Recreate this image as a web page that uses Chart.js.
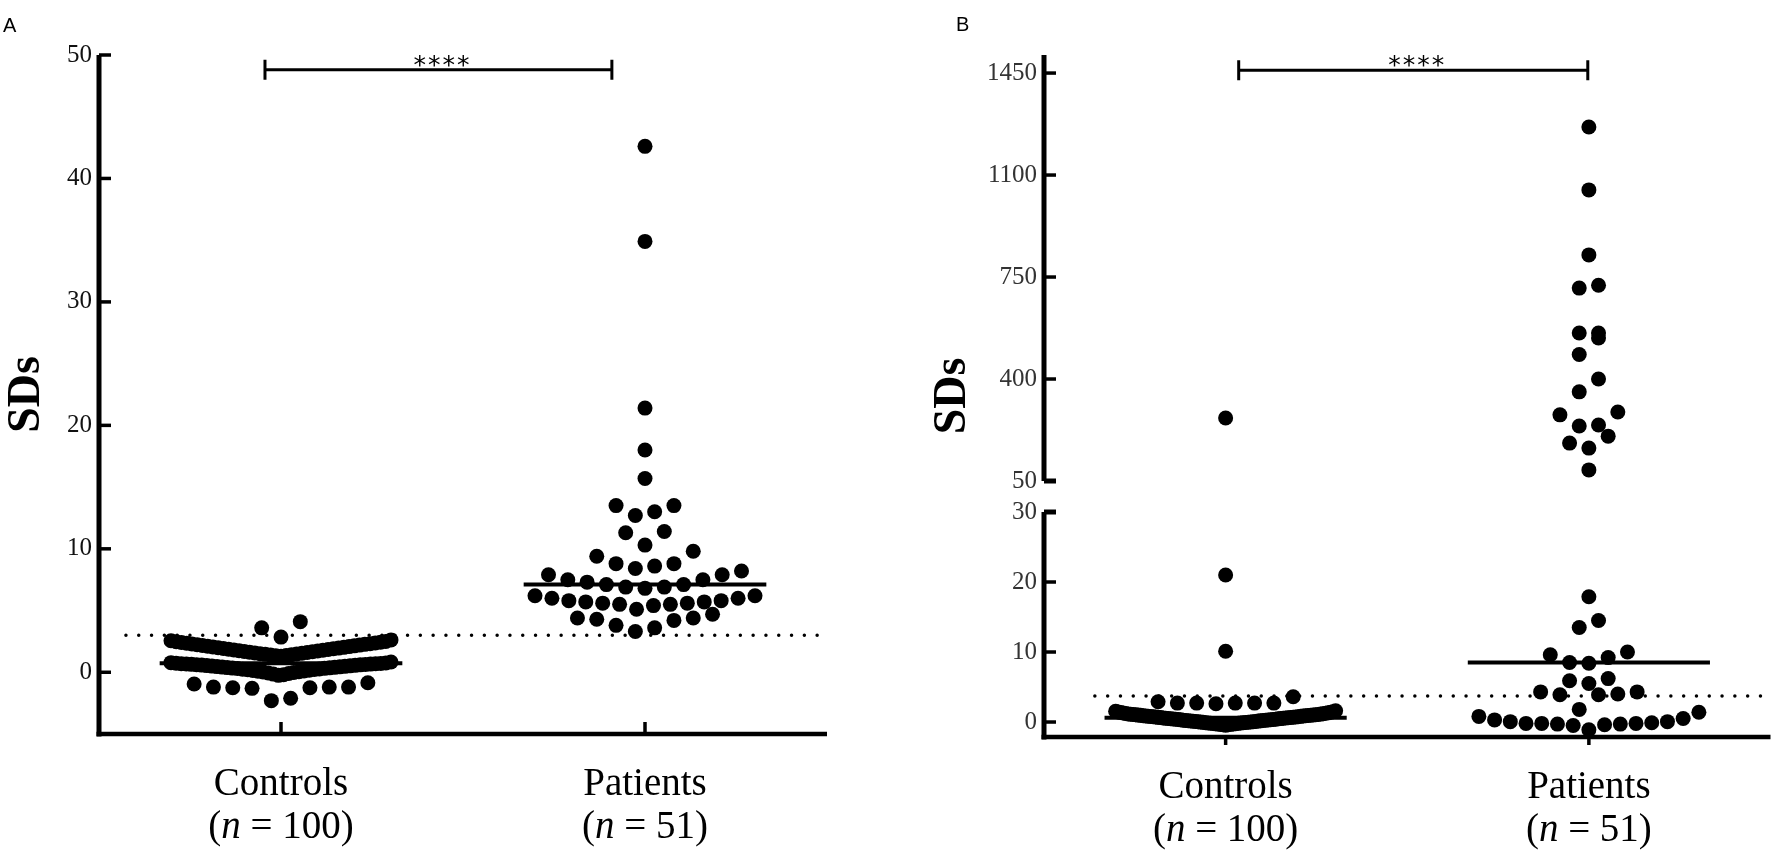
<!DOCTYPE html>
<html>
<head>
<meta charset="utf-8">
<title>SDs - controls vs patients</title>
<script src="https://cdn.jsdelivr.net/npm/chart.js@4.4.1/dist/chart.umd.min.js"></script>
<style>
  body { margin: 0; background: #fff; }
  #page { position: relative; width: 1778px; height: 859px; }
  #page canvas { position: absolute; top: 0; }
</style>
</head>
<body>
<div id="page">
  <canvas id="panelA" width="889" height="859" style="left:0"></canvas>
  <canvas id="panelB" width="889" height="859" style="left:889px"></canvas>
</div>
<script>
// ---- values ----
const groupLabels = ['Controls', 'Patients'];
const groupSizes = [100, 51];

// panel A (plain linear axis)
const controlsA = [
  // row below zero
  -2.3, -2.1, -1.3, -1.25, -1.25, -1.2, -1.2, -1.2, -0.95, -0.85,
  // lower dense band
  -0.25, -0.2, -0.15, -0.1, -0.06, -0.02, 0.02, 0.05, 0.08, 0.11,
  0.14, 0.17, 0.2, 0.22, 0.25, 0.27, 0.3, 0.32, 0.34, 0.36,
  0.38, 0.4, 0.42, 0.44, 0.46, 0.48, 0.5, 0.52, 0.54, 0.56,
  0.58, 0.6, 0.61, 0.63, 0.64, 0.66, 0.67, 0.69, 0.7, 0.72,
  0.73, 0.75, 0.78, 0.83,
  // upper dense band
  1.3, 1.33, 1.36, 1.39, 1.42, 1.45, 1.48, 1.51, 1.54, 1.57,
  1.6, 1.63, 1.66, 1.69, 1.72, 1.75, 1.78, 1.81, 1.84, 1.87,
  1.9, 1.93, 1.96, 1.99, 2.02, 2.05, 2.08, 2.11, 2.14, 2.17,
  2.2, 2.23, 2.26, 2.29, 2.32, 2.35, 2.38, 2.41, 2.44, 2.47,
  2.5, 2.55, 2.62,
  // above the band
  2.85, 3.6, 4.1
];
const patientsA = [
  42.6, 34.9, 21.4, 18.0, 15.7,
  13.5, 13.0, 12.7, 13.5, 11.4, 11.3, 10.3,
  9.8, 9.4, 8.8, 8.6, 8.4, 8.8,
  8.2, 7.9, 7.9, 7.5, 7.5, 7.1, 6.9, 6.8, 6.9, 7.1, 7.3,
  6.2, 6.0, 5.8, 5.7, 5.6, 5.5, 5.4, 5.1, 5.5, 5.6, 5.7, 5.8, 6.0, 6.2,
  4.4, 4.3, 3.8, 3.3, 3.6, 4.2, 4.4, 4.7
];
const cutoffA = 3;
const yTicksA = [0, 10, 20, 30, 40, 50];

// panel B (axis broken between 30 and 50)
const controlsB = [
  // band hugging zero
  -0.45, -0.4, -0.38, -0.35, -0.33, -0.3, -0.28, -0.26, -0.24, -0.21,
  -0.19, -0.17, -0.15, -0.13, -0.11, -0.09, -0.07, -0.05, -0.03, -0.01,
  0.01, 0.03, 0.05, 0.07, 0.09, 0.11, 0.13, 0.15, 0.17, 0.19,
  0.21, 0.23, 0.25, 0.27, 0.29, 0.31, 0.33, 0.35, 0.37, 0.39,
  0.41, 0.43, 0.45, 0.47, 0.49, 0.51, 0.53, 0.55, 0.57, 0.59,
  0.61, 0.63, 0.65, 0.67, 0.69, 0.71, 0.73, 0.75, 0.77, 0.79,
  0.81, 0.83, 0.85, 0.87, 0.89, 0.91, 0.93, 0.95, 0.97, 0.99,
  1.01, 1.03, 1.05, 1.07, 1.09, 1.11, 1.13, 1.16, 1.19, 1.22,
  1.25, 1.28, 1.31, 1.35, 1.39, 1.43, 1.48, 1.54, 1.6,
  // row just under the cut-off
  2.6, 2.7, 2.7, 2.7, 2.7, 2.7, 2.9, 3.6,
  // outliers
  10.1, 21.0, 266
];
const patientsB = [
  1265, 1049, 826, 722, 712, 558, 558, 541, 484, 400,
  356, 287, 277, 242, 239, 204, 180, 163, 88,
  17.9, 14.5, 13.5, 10.0, 9.6, 9.2, 8.5, 8.4, 6.2, 5.9, 5.5,
  4.3, 4.3, 4.0, 3.9, 3.9, 1.8, 1.4, 0.8, 0.5, 0.3, 0.05, 0.05,
  -0.1, -0.2, -0.2, -0.2, -0.3, -0.3, -0.4, -0.5, -1.1
];
const cutoffB = 3.7;
const yTicksB = [0, 10, 20, 30, 50, 400, 750, 1100, 1450];
const breakB = [30, 50];
const significance = '****';

// ---- drawing settings ----
const SERIF = '"Liberation Serif", "Times New Roman", serif';
const DOT_R = 7.5;
const DOT_STEP = 19.3;   // px between neighbours in one row
const ROW_HEIGHT = 18.5; // px, values closer than this share a row
const MAX_HALF = 110;    // px, widest a row may spread
const MEDIAN_HALF = 1 / 3;

// broken y axis: lower part takes LOWER_SHARE of the height, then a gap
const LOWER_SHARE = 225 / 682;
const GAP_SHARE = 31 / 682;

class BrokenScale extends Chart.LinearScale {
  static id = 'broken';
  static defaults = {};
  getPixelForValue(value) {
    const h = this.bottom - this.top;
    const lowH = h * LOWER_SHARE, gapH = h * GAP_SHARE;
    if (value <= breakB[0]) {
      return this.bottom - (value - this.min) / (breakB[0] - this.min) * lowH;
    }
    const upH = h - lowH - gapH;
    return this.top + (this.max - value) / (this.max - breakB[1]) * upH;
  }
  getValueForPixel(pixel) {
    const h = this.bottom - this.top;
    const lowH = h * LOWER_SHARE, gapH = h * GAP_SHARE;
    const upH = h - lowH - gapH;
    if (pixel >= this.bottom - lowH) {
      return this.min + (this.bottom - pixel) / lowH * (breakB[0] - this.min);
    }
    return this.max - (pixel - this.top) / upH * (this.max - breakB[1]);
  }
}
Chart.register(BrokenScale);

function median(values) {
  const s = [...values].sort((a, b) => a - b);
  const m = Math.floor(s.length / 2);
  return s.length % 2 ? s[m] : (s[m - 1] + s[m]) / 2;
}

// Prism-like scatter: values falling in the same pixel row are spread
// left/right of the column centre, lowest value in the middle.
function swarmOffsets(values, toPixel) {
  const px = values.map(toPixel);
  const order = values.map((_, i) => i).sort((a, b) => values[a] - values[b]);
  const offsets = new Array(values.length).fill(0);
  let i = 0;
  while (i < order.length) {
    const rowStart = px[order[i]];
    const row = [];
    while (i < order.length && rowStart - px[order[i]] < ROW_HEIGHT) row.push(order[i++]);
    const n = row.length;
    const step = n > 1 ? Math.min(DOT_STEP, 2 * MAX_HALF / (n - 1)) : 0;
    row.forEach((idx, k) => {
      let slot;
      if (n % 2) slot = k === 0 ? 0 : Math.ceil(k / 2) * (k % 2 ? -1 : 1);
      else slot = (Math.floor(k / 2) + 0.5) * (k % 2 ? 1 : -1);
      offsets[idx] = slot * step;
    });
  }
  return offsets;
}

function layoutSwarm(chart) {
  const xs = chart.scales.x, ys = chart.scales.y;
  const unit = xs.getPixelForValue(1) - xs.getPixelForValue(0);
  chart.data.datasets.forEach((ds, g) => {
    const off = swarmOffsets(ds.data.map(p => p.y), v => ys.getPixelForValue(v));
    ds.data.forEach((p, i) => { p.x = g + off[i] / unit; });
  });
  chart.update('none');
}

function drawGroupSize(ctx, cx, cy, n) {
  const plain = '39px ' + SERIF, italic = 'italic 39px ' + SERIF;
  const parts = [['(', plain], ['n', italic], [' = ' + n + ')', plain]];
  let w = 0;
  parts.forEach(([t, f]) => { ctx.font = f; w += ctx.measureText(t).width; });
  let px = cx - w / 2;
  ctx.textAlign = 'left';
  ctx.textBaseline = 'middle';
  parts.forEach(([t, f]) => { ctx.font = f; ctx.fillText(t, px, cy); px += ctx.measureText(t).width; });
}

function decorations(cfg) {
  return {
    id: 'deco',
    beforeDatasetsDraw(chart) {
      const { ctx, chartArea: a, scales: { x, y } } = chart;
      ctx.save();
      ctx.strokeStyle = '#000';
      // dotted cut-off
      const cy = y.getPixelForValue(cfg.cutoff);
      ctx.lineWidth = 3.5;
      ctx.lineCap = 'round';
      ctx.setLineDash([0, 12.8]);
      ctx.beginPath();
      ctx.moveTo(x.getPixelForValue(cfg.cutoffSpan[0]), cy);
      ctx.lineTo(x.getPixelForValue(cfg.cutoffSpan[1]), cy);
      ctx.stroke();
      ctx.setLineDash([]);
      ctx.lineCap = 'butt';
      // y axis line(s)
      ctx.lineWidth = 5;
      cfg.segments.forEach(([lo, hi]) => {
        const yLo = lo === y.min ? a.bottom + 2.5 : y.getPixelForValue(lo);
        ctx.beginPath();
        ctx.moveTo(a.left, yLo);
        ctx.lineTo(a.left, y.getPixelForValue(hi));
        ctx.stroke();
      });
      // inward y ticks
      cfg.yTicks.forEach(v => {
        const py = y.getPixelForValue(v);
        const isEnd = cfg.breakEnds.includes(v);
        ctx.lineWidth = isEnd ? 5 : 3.5;
        ctx.beginPath();
        ctx.moveTo(a.left, py);
        ctx.lineTo(a.left + 12, py);
        ctx.stroke();
      });
      // x axis and ticks
      ctx.lineWidth = 4.5;
      ctx.beginPath();
      ctx.moveTo(a.left - 2.5, a.bottom);
      ctx.lineTo(a.right, a.bottom);
      ctx.stroke();
      ctx.lineWidth = 3.5;
      groupLabels.forEach((_, g) => {
        const px = x.getPixelForValue(g);
        ctx.beginPath();
        ctx.moveTo(px, a.bottom);
        ctx.lineTo(px, a.bottom + cfg.xTickLen);
        ctx.stroke();
      });
      ctx.restore();
    },
    afterDatasetsDraw(chart) {
      const { ctx, chartArea: a, scales: { x, y } } = chart;
      ctx.save();
      ctx.strokeStyle = '#000';
      ctx.fillStyle = '#000';
      // median lines
      ctx.lineWidth = 4;
      chart.data.datasets.forEach((ds, g) => {
        const my = y.getPixelForValue(median(cfg.groups[g]));
        ctx.beginPath();
        ctx.moveTo(x.getPixelForValue(g - MEDIAN_HALF), my);
        ctx.lineTo(x.getPixelForValue(g + MEDIAN_HALF), my);
        ctx.stroke();
      });
      // significance bracket
      const [bx0, bx1, bv] = cfg.bracket;
      const by = y.getPixelForValue(bv);
      const px0 = x.getPixelForValue(bx0), px1 = x.getPixelForValue(bx1);
      ctx.lineWidth = 3;
      ctx.beginPath();
      ctx.moveTo(px0, by); ctx.lineTo(px1, by);
      ctx.moveTo(px0, by - 10); ctx.lineTo(px0, by + 10);
      ctx.moveTo(px1, by - 10); ctx.lineTo(px1, by + 10);
      ctx.stroke();
      ctx.font = '25px "DejaVu Sans", sans-serif';
      ctx.letterSpacing = '2px';
      ctx.textAlign = 'center';
      ctx.textBaseline = 'alphabetic';
      ctx.fillText(significance, (px0 + px1) / 2 + 4, by + 3);
      ctx.letterSpacing = '0px';
      // second line of the category labels
      groupSizes.forEach((n, g) => drawGroupSize(ctx, x.getPixelForValue(g), a.bottom + 94, n));
      // panel letter
      ctx.font = '20px "Liberation Sans", Arial, sans-serif';
      ctx.textAlign = 'left';
      ctx.fillText(cfg.letter, cfg.letterPos[0], cfg.letterPos[1]);
      ctx.restore();
    }
  };
}

function makePanel(canvasId, cfg) {
  const chart = new Chart(document.getElementById(canvasId), {
    type: 'scatter',
    data: {
      datasets: cfg.groups.map((vals, g) => ({
        label: groupLabels[g],
        data: vals.map(v => ({ x: g, y: v })),
        backgroundColor: '#000',
        borderWidth: 0,
        pointRadius: DOT_R,
        pointHoverRadius: DOT_R,
        clip: false
      }))
    },
    options: {
      responsive: false,
      animation: false,
      events: [],
      layout: { padding: { left: cfg.padLeft, right: cfg.padRight, top: 55, bottom: 0 } },
      plugins: { legend: { display: false }, tooltip: { enabled: false } },
      scales: {
        x: {
          type: 'linear',
          min: -0.5,
          max: 1.5,
          grid: { display: false, drawTicks: false },
          border: { display: false },
          afterBuildTicks: s => { s.ticks = groupLabels.map((_, i) => ({ value: i })); },
          afterFit: s => { s.height = cfg.xHeight; },
          ticks: {
            callback: v => groupLabels[v],
            autoSkip: false,
            maxRotation: 0,
            padding: 28,
            color: '#000',
            font: { family: SERIF, size: 39, lineHeight: 1.15 }
          }
        },
        y: {
          type: cfg.yType,
          min: cfg.yRange[0],
          max: cfg.yRange[1],
          grid: { display: false, drawTicks: false },
          border: { display: false },
          afterBuildTicks: s => { s.ticks = cfg.yTicks.map(v => ({ value: v })); },
          afterFit: s => { s.width = cfg.yWidth; },
          ticks: {
            callback: v => String(v),
            autoSkip: false,
            padding: 7,
            color: cfg.tickColor,
            font: { family: SERIF, size: 25 }
          },
          title: {
            display: true,
            text: 'SDs',
            color: '#000',
            padding: { top: 0, bottom: 0 },
            font: { family: SERIF, size: 46, weight: 'bold', lineHeight: 1.2 }
          }
        }
      }
    },
    plugins: [decorations(cfg)]
  });
  layoutSwarm(chart);
  return chart;
}

makePanel('panelA', {
  letter: 'A', letterPos: [3, 26],
  groups: [controlsA, patientsA],
  yType: 'linear', yRange: [-5, 50], yTicks: yTicksA,
  segments: [[-5, 50]], breakEnds: [],
  cutoff: cutoffA, cutoffSpan: [-0.426, 1.48],
  bracket: [-0.044, 0.909, 48.8],
  xTickLen: -12,
  padLeft: 0, padRight: 62, yWidth: 99, xHeight: 125,
  tickColor: '#111'
});

makePanel('panelB', {
  letter: 'B', letterPos: [67, 25],
  groups: [controlsB, patientsB],
  yType: 'broken', yRange: [-2.14, 1512], yTicks: yTicksB,
  segments: [[-2.14, breakB[0]], [breakB[1], 1512]], breakEnds: breakB,
  cutoff: cutoffB, cutoffSpan: [-0.36, 1.48],
  bracket: [0.036, 0.997, 1460],
  xTickLen: 8,
  padLeft: 36.4, padRight: 3, yWidth: 118.6, xHeight: 122,
  tickColor: '#333'
});
</script>
</body>
</html>
